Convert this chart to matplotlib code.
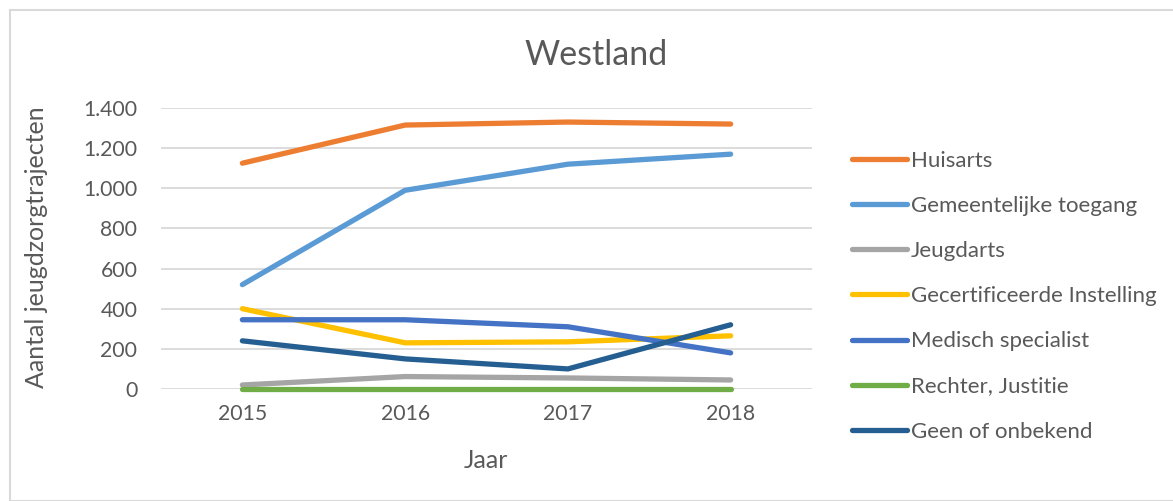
import matplotlib

matplotlib.use("Agg")

import matplotlib.pyplot as plt
from matplotlib.patches import Rectangle

years = ["2015", "2016", "2017", "2018"]
huisarts = [1125, 1315, 1330, 1320]
gemeentelijk = [520, 990, 1120, 1170]
jeugdarts = [20, 62, 55, 45]
gecertificeerd = [400, 230, 235, 265]
medisch = [345, 345, 310, 180]
rechter = [2, 2, 2, 2]
onbekend = [240, 150, 100, 320]

series = [
    ("Huisarts", huisarts, "#ED7D31"),
    ("Gemeentelijke toegang", gemeentelijk, "#5B9BD5"),
    ("Jeugdarts", jeugdarts, "#A5A5A5"),
    ("Gecertificeerde Instelling", gecertificeerd, "#FFC000"),
    ("Medisch specialist", medisch, "#4472C4"),
    ("Rechter, Justitie", rechter, "#70AD47"),
    ("Geen of onbekend", onbekend, "#255E91"),
]

TEXT = "#595959"
GRID = "#D9D9D9"
W, H = 1173, 501

plt.rcParams["font.family"] = ["Lato", "DejaVu Sans"]

fig = plt.figure(figsize=(W / 100, H / 100), dpi=100)
ax = fig.add_axes([161 / W, 1 - 389 / H, (812 - 161) / W, (389 - 108) / H])

x = list(range(len(years)))
for label, values, color in series:
    ax.plot(x, values, color=color, lw=3.8, solid_capstyle="round",
            solid_joinstyle="round", label=label, clip_on=False)

ax.set_xlim(-0.5, len(years) - 0.5)
ax.set_ylim(0, 1400)
ax.set_yticks(range(0, 1401, 200))
ax.set_yticklabels([f"{v:,}".replace(",", ".") for v in range(0, 1401, 200)])
ax.set_xticks(x)
ax.set_xticklabels(years)
ax.tick_params(length=0, labelsize=15.3, colors=TEXT, pad=17)
ax.tick_params(axis="x", pad=11)
ax.grid(axis="y", color=GRID, lw=1.3)
ax.set_axisbelow(True)
for spine in ax.spines.values():
    spine.set_visible(False)

fig.text(596 / W, 1 - 55 / H, "Westland", ha="center", va="center",
         fontsize=24.5, color=TEXT)
fig.text(486 / W, 1 - 461 / H, "Jaar", ha="center", va="center",
         fontsize=18, color=TEXT)
fig.text(37 / W, 1 - 247 / H, "Aantal jeugdzorgtrajecten", ha="center",
         va="center", rotation=90, fontsize=18, color=TEXT)

leg = fig.legend(loc="upper left", bbox_to_anchor=(843 / W, 1 - 142 / H),
                 frameon=False, fontsize=16, handlelength=2.5,
                 handletextpad=0.15, labelspacing=1.13, borderaxespad=0)
for text in leg.get_texts():
    text.set_color(TEXT)

fig.patches.append(Rectangle((10 / W, 0), 1, 1 - 10 / H, transform=fig.transFigure,
                             fill=False, edgecolor=GRID, lw=1.5))

fig.savefig("out.png", dpi=100)
